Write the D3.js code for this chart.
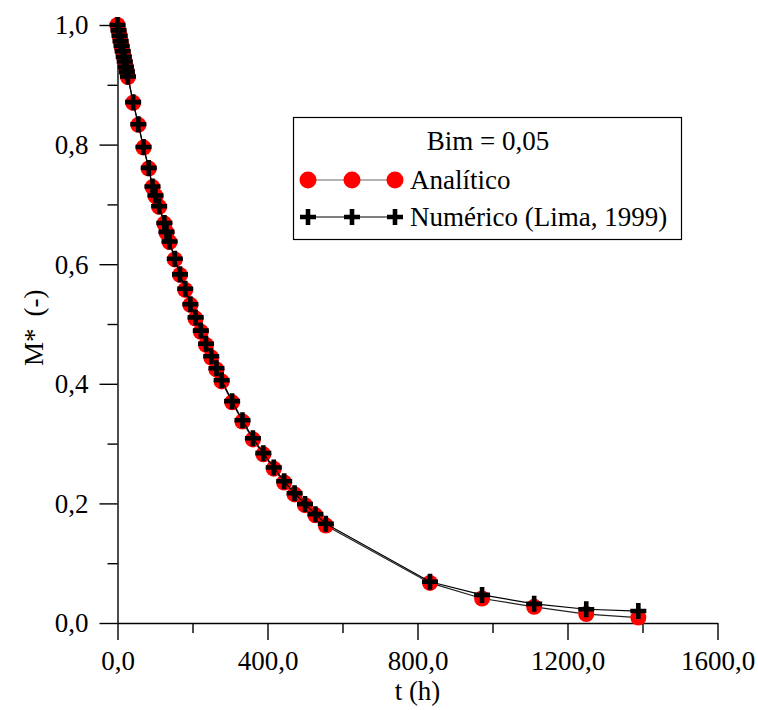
<!DOCTYPE html>
<html>
<head>
<meta charset="utf-8">
<script src="https://cdn.jsdelivr.net/npm/d3@7"></script>
<style>
  html, body { margin: 0; padding: 0; background: #fff; }
  svg { display: block; }
  text { font-family: "Liberation Serif", "Times New Roman", serif; fill: #000; }
</style>
</head>
<body>
<svg id="chart" width="758" height="710"></svg>
<script>
// ---- data ----
const tHours = [0, 2.8, 5.6, 8.3, 11.1, 13.9, 16.7, 19.4, 22.2, 25.0, 27.8,
  41.7, 55.6, 69.4, 83.3, 93.3, 101.3, 111.1, 125.0, 130.7,
  138.9, 152.8, 166.7, 180.6, 194.4, 208.3, 222.2, 236.1, 250.0, 263.9, 277.8,
  305.6, 333.3, 361.1, 388.9, 416.7, 444.4, 472.2, 500.0, 527.8, 555.6,
  833.3, 972.2, 1111.1, 1250.0, 1388.9];

const analitico = [1.000, 0.991, 0.982, 0.973, 0.964, 0.956, 0.947, 0.938, 0.930, 0.922, 0.913,
  0.870, 0.833, 0.795, 0.760, 0.729, 0.714, 0.696, 0.668, 0.653,
  0.637, 0.608, 0.582, 0.557, 0.532, 0.509, 0.487, 0.465, 0.444, 0.424, 0.404,
  0.369, 0.337, 0.307, 0.282, 0.258, 0.235, 0.215, 0.197, 0.180, 0.163,
  0.067, 0.041, 0.027, 0.015, 0.009];

const numerico = [1.000, 0.991, 0.982, 0.973, 0.965, 0.956, 0.947, 0.939, 0.930, 0.922, 0.914,
  0.871, 0.834, 0.796, 0.761, 0.730, 0.715, 0.697, 0.669, 0.654,
  0.638, 0.609, 0.583, 0.559, 0.533, 0.511, 0.489, 0.467, 0.446, 0.426, 0.406,
  0.371, 0.339, 0.309, 0.284, 0.260, 0.237, 0.217, 0.199, 0.182, 0.166,
  0.069, 0.047, 0.032, 0.023, 0.020];

const xMajorTicks = [0, 400, 800, 1200, 1600];
const xMinorTicks = [200, 600, 1000, 1400];
const yMajorTicks = [0, 0.2, 0.4, 0.6, 0.8, 1.0];
const yMinorTicks = [0.1, 0.3, 0.5, 0.7, 0.9];

const seriesNames = ["Analítico", "Numérico (Lima, 1999)"];
const legendTitle = "Bim = 0,05";
const xTitle = "t (h)";
const yTitleParts = ["M*", "(-)"];

// ---- drawing ----
const svg = d3.select("#chart");
const FS = 27;
const x = d3.scaleLinear().domain([0, 1600]).range([117.5, 717.5]);
const y = d3.scaleLinear().domain([0, 1]).range([623, 25]);

const locale = d3.formatLocale({decimal: ",", thousands: "", grouping: [3], currency: ["", ""]});
const fmt = locale.format(".1f");

function styleAxis(g) {
  g.selectAll("path.domain").attr("stroke", "#000").attr("stroke-width", 1.4);
  g.selectAll(".tick line").attr("stroke", "#000").attr("stroke-width", 1.4);
}

// x minor
const gxm = svg.append("g").attr("transform", `translate(0,${y(0)})`)
  .call(d3.axisBottom(x).tickValues(xMinorTicks).tickSize(10).tickSizeOuter(0).tickFormat(""));
gxm.select("path.domain").remove();
styleAxis(gxm);
// x major
const gx = svg.append("g").attr("transform", `translate(0,${y(0)})`)
  .call(d3.axisBottom(x).tickValues(xMajorTicks).tickSize(17).tickSizeOuter(0).tickFormat(fmt));
styleAxis(gx);
gx.selectAll(".tick text").attr("y", 47).attr("dy", 0)
  .style("font-family", '"Liberation Serif", "Times New Roman", serif').style("font-size", FS + "px").attr("fill", "#000");

// y minor
const gym = svg.append("g").attr("transform", `translate(${x(0)},0)`)
  .call(d3.axisLeft(y).tickValues(yMinorTicks).tickSize(10).tickSizeOuter(0).tickFormat(""));
gym.select("path.domain").remove();
styleAxis(gym);
// y major
const gy = svg.append("g").attr("transform", `translate(${x(0)},0)`)
  .call(d3.axisLeft(y).tickValues(yMajorTicks).tickSize(18).tickSizeOuter(0).tickFormat(fmt));
styleAxis(gy);
gy.selectAll(".tick text").attr("x", -29).attr("dy", "0.33em")
  .style("font-family", '"Liberation Serif", "Times New Roman", serif').style("font-size", FS + "px").attr("fill", "#000");

// axis titles
svg.append("text").attr("x", x(800)).attr("y", 700).attr("text-anchor", "middle")
  .style("font-size", FS + "px").text(xTitle);
const yt = svg.append("text").attr("transform", `translate(43,366) rotate(-90)`).attr("text-anchor", "start")
  .style("font-size", FS + "px");
yt.append("tspan").text(yTitleParts[0]);
yt.append("tspan").attr("dx", 12).text(yTitleParts[1]);

// data
const dataA = tHours.map((t, i) => ({t, m: analitico[i]}));
const dataN = tHours.map((t, i) => ({t, m: numerico[i]}));
const line = d3.line().x(d => x(d.t)).y(d => y(d.m));

const plusPath = "M-8,-2.3h16v4.6h-16z M-2.3,-8h4.6v16h-4.6z";
const R = 8;

svg.append("path").datum(dataA).attr("d", line).attr("fill", "none").attr("stroke", "#222").attr("stroke-width", 1.2);
svg.append("g").selectAll("circle").data(dataA).join("circle")
  .attr("cx", d => x(d.t)).attr("cy", d => y(d.m)).attr("r", R).attr("fill", "#ff0000");
svg.append("path").datum(dataN).attr("d", line).attr("fill", "none").attr("stroke", "#000").attr("stroke-width", 1.2);
svg.append("g").selectAll("path").data(dataN).join("path")
  .attr("transform", d => `translate(${x(d.t)},${y(d.m)})`).attr("d", plusPath).attr("fill", "#000");

// legend
const lg = svg.append("g");
lg.append("rect").attr("x", 293.5).attr("y", 117.5).attr("width", 388).attr("height", 122)
  .attr("fill", "#fff").attr("stroke", "#000").attr("stroke-width", 1.2);
lg.append("text").attr("x", 488).attr("y", 150).attr("text-anchor", "middle").style("font-size", FS + "px").text(legendTitle);
const lx = [308, 352, 395];
// row 1
lg.append("line").attr("x1", lx[0]).attr("x2", lx[2]).attr("y1", 180).attr("y2", 180).attr("stroke", "#666").attr("stroke-width", 1.2);
lg.selectAll("circle").data(lx).join("circle").attr("cx", d => d).attr("cy", 180).attr("r", 8.5).attr("fill", "#ff0000");
lg.append("text").attr("x", 410).attr("y", 189).style("font-size", FS + "px").text(seriesNames[0]);
// row 2
lg.append("line").attr("x1", lx[0]).attr("x2", lx[2]).attr("y1", 217).attr("y2", 217).attr("stroke", "#000").attr("stroke-width", 1.2);
lg.selectAll("path.lp").data(lx).join("path").attr("class", "lp")
  .attr("transform", d => `translate(${d},217)`).attr("d", plusPath).attr("fill", "#000");
lg.append("text").attr("x", 410).attr("y", 226).style("font-size", FS + "px").text(seriesNames[1]);
</script>
</body>
</html>
